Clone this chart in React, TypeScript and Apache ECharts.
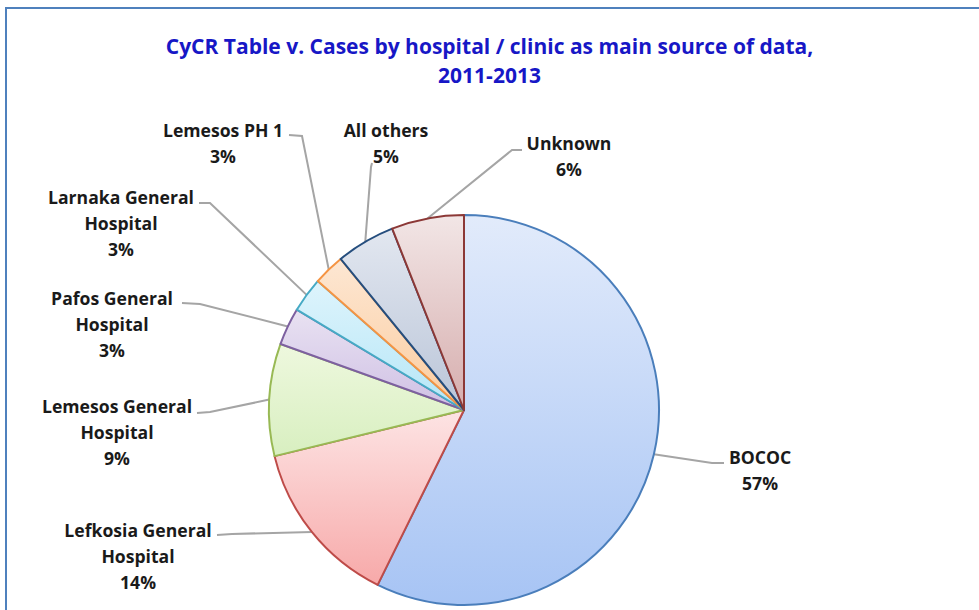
import React, { useEffect, useRef } from 'react';
import * as echarts from 'echarts';

// ---- data ----
const titleLines = ['CyCR Table v. Cases by hospital / clinic as main source of data,', '2011-2013'];
const categories = [
  'BOCOC',
  'Lefkosia General\nHospital',
  'Lemesos General\nHospital',
  'Pafos General\nHospital',
  'Larnaka General\nHospital',
  'Lemesos PH 1',
  'All others',
  'Unknown',
];
const shares = [57.3, 13.9, 9.3, 3.1, 2.9, 2.6, 4.9, 6.0];

// ---- styles ----
const fillTop = ['#e2ebfb', '#fde4e4', '#eef8de', '#e9e2f2', '#def4fc', '#fde7d3', '#e2e7f0', '#f2e6e6'];
const fillBottom = ['#a7c4f4', '#f7a9a9', '#d8efc0', '#cfc0e4', '#b5e6f7', '#fbcc9f', '#bac5d8', '#d6adad'];
const borderColors = ['#4a7ebb', '#be4b48', '#98b954', '#7d60a0', '#46aac5', '#f59443', '#254e7e', '#8c3836'];

// label layout: text centre x, text top y, elbow point, end point
const labelLayoutPos = [
  { x: 760, y: 444, elbow: [712, 463], end: [724, 463] },
  { x: 138, y: 517, elbow: [232, 534], end: [217, 535] },
  { x: 117, y: 393, elbow: [210, 412], end: [197, 413] },
  { x: 112, y: 285, elbow: [200, 304], end: [182, 303] },
  { x: 121, y: 184, elbow: [210, 203], end: [199, 203] },
  { x: 223, y: 117, elbow: [302, 136], end: [289, 135] },
  { x: 386, y: 117, elbow: [371, 167], end: [372, 163] },
  { x: 569, y: 130, elbow: [512, 150], end: [522, 150] },
];

const CX = 464;
const CY = 410;
const R = 195;
const FONT = '"Open Sans", Lato, sans-serif';

export default function App() {
  const ref = useRef<HTMLDivElement>(null);
  useEffect(() => {
    document.body.style.margin = '0';
    const chart = echarts.init(ref.current!, null, { renderer: 'svg' });
    const data = categories.map((name, i) => ({
      name,
      value: shares[i],
      itemStyle: {
        color: new echarts.graphic.LinearGradient(0, 0, 0, 1, [
          { offset: 0, color: fillTop[i] },
          { offset: 1, color: fillBottom[i] },
        ]),
        borderColor: borderColors[i],
        borderWidth: 2,
      },
    }));
    chart.setOption({
      animation: false,
      backgroundColor: '#ffffff',
      title: {
        text: titleLines.join('\n'),
        left: 'center',
        top: 27,
        textStyle: {
          fontFamily: FONT,
          fontWeight: 'bold',
          fontSize: 21,
          lineHeight: 28.6,
          color: '#1717c6',
        },
      },
      graphic: [
        {
          type: 'rect',
          shape: { x: 6, y: 8, width: 1200, height: 1000 },
          style: { fill: 'none', stroke: '#4f81bd', lineWidth: 2 },
          silent: true,
        },
      ],
      series: [
        {
          type: 'pie',
          center: [CX, CY],
          radius: R,
          startAngle: 90,
          clockwise: true,
          data,
          label: {
            show: true,
            position: 'outside',
            formatter: (p: any) => `${p.name}\n${Math.round(p.percent)}%`,
            fontFamily: FONT,
            fontWeight: 'bold',
            fontSize: 17.6,
            lineHeight: 26,
            color: '#1a1a1a',
            align: 'center',
          },
          labelLine: {
            show: true,
            length: 10,
            length2: 10,
            lineStyle: { color: '#a5a5a5', width: 2 },
          },
          labelLayout: (params: any) => {
            const i = params.dataIndex;
            const pos = labelLayoutPos[i];
            let anchor = params.labelLinePoints && params.labelLinePoints[0];
            if (!anchor) {
              let before = 0;
              const total = shares.reduce((a, b) => a + b, 0);
              for (let k = 0; k < i; k++) before += shares[k];
              const ang = ((before + shares[i] / 2) / total) * Math.PI * 2;
              anchor = [CX + R * Math.sin(ang), CY - R * Math.cos(ang)];
            }
            return {
              x: pos.x,
              y: pos.y,
              align: 'center',
              verticalAlign: 'top',
              labelLinePoints: [anchor, pos.elbow, pos.end],
            };
          },
        },
      ],
    });
    return () => chart.dispose();
  }, []);
  return <div ref={ref} style={{ width: 979, height: 610 }} />;
}
